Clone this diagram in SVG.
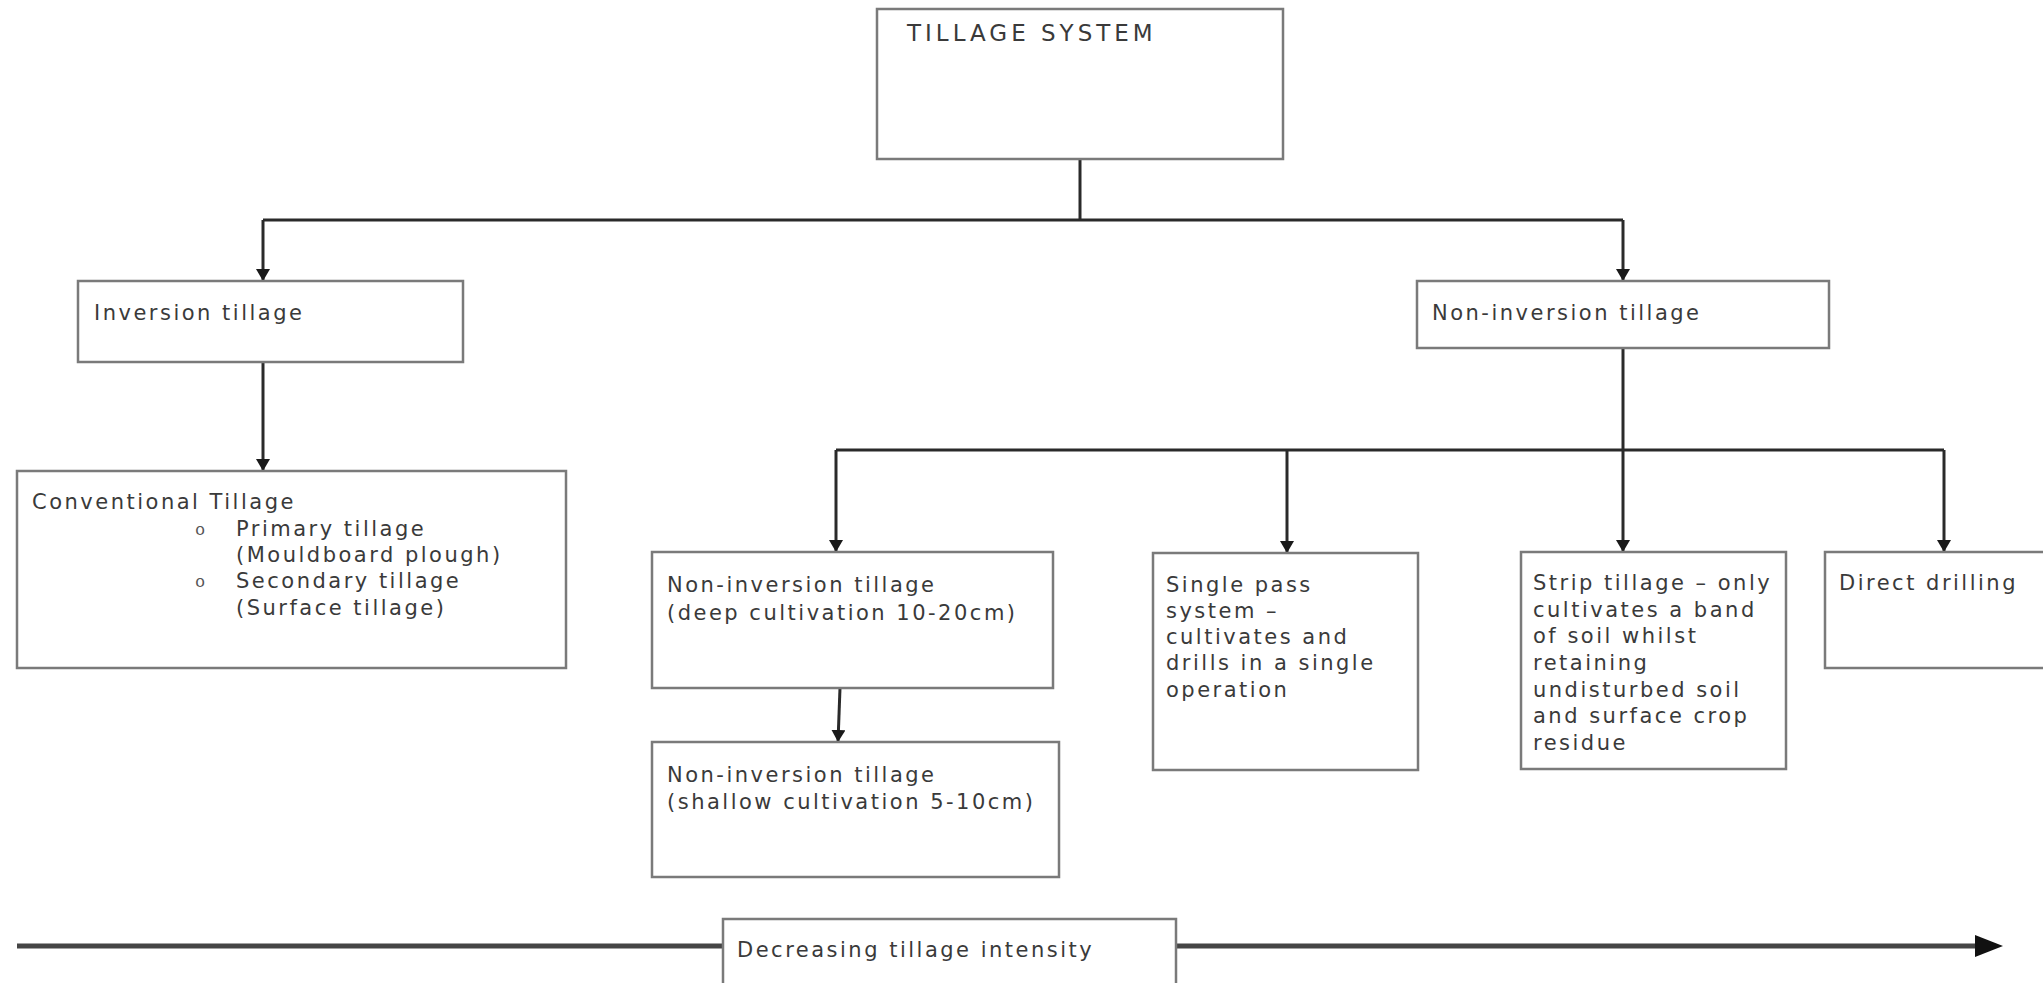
<svg xmlns="http://www.w3.org/2000/svg" width="2043" height="983" viewBox="0 0 2043 983">
<style>
.box{fill:#fff;stroke:#7a7a7a;stroke-width:2.5}
.t{font-family:"DejaVu Sans",sans-serif;font-size:21px;letter-spacing:2.5px;fill:#3a3a3a}
.title{font-family:"DejaVu Sans",sans-serif;font-size:23px;letter-spacing:4px;fill:#3a3a3a}
.bul{font-family:"Liberation Mono",monospace;font-size:17px;fill:#555}
.c{fill:none;stroke:#2a2a2a;stroke-width:3}
</style>
<defs>
<marker id="ah" markerUnits="userSpaceOnUse" viewBox="0 0 12 14" refX="12" refY="7" markerWidth="12" markerHeight="14" orient="auto">
<path d="M0,0 L12,7 L0,14 z" fill="#1a1a1a"/>
</marker>
</defs>
<rect width="2043" height="983" fill="#fff"/>
<g id="connectors">
<path class="c" d="M1080,159 V220"/>
<path class="c" d="M263,220 H1623"/>
<path class="c" d="M263,220 V281" marker-end="url(#ah)"/>
<path class="c" d="M1623,220 V281" marker-end="url(#ah)"/>
<path class="c" d="M263,362 V471" marker-end="url(#ah)"/>
<path class="c" d="M1623,348 V552" marker-end="url(#ah)"/>
<path class="c" d="M836,450 H1944"/>
<path class="c" d="M836,450 V552" marker-end="url(#ah)"/>
<path class="c" d="M1287,450 V553" marker-end="url(#ah)"/>
<path class="c" d="M1944,450 V552" marker-end="url(#ah)"/>
<path class="c" d="M840,688 L838,742" marker-end="url(#ah)"/>
<path d="M17,946 H1980" fill="none" stroke="#454545" stroke-width="5"/>
<polygon points="1975,935 2003,946 1975,957" fill="#111"/>
</g>
<g id="tillage-system">
<rect class="box" x="877" y="9" width="406" height="150"/>
<text class="title" x="907" y="41">TILLAGE SYSTEM</text>
</g>
<g id="inversion">
<rect class="box" x="78" y="281" width="385" height="81"/>
<text class="t" x="94" y="320">Inversion tillage</text>
</g>
<g id="non-inversion">
<rect class="box" x="1417" y="281" width="412" height="67"/>
<text class="t" x="1432" y="320">Non-inversion tillage</text>
</g>
<g id="conventional">
<rect class="box" x="17" y="471" width="549" height="197"/>
<text class="t" x="32" y="509">Conventional Tillage</text>
<text class="bul" x="195" y="535">o</text>
<text class="t" x="236" y="536">Primary tillage</text>
<text class="t" x="236" y="562">(Mouldboard plough)</text>
<text class="bul" x="195" y="587">o</text>
<text class="t" x="236" y="588">Secondary tillage</text>
<text class="t" x="236" y="615">(Surface tillage)</text>
</g>
<g id="deep">
<rect class="box" x="652" y="552" width="401" height="136"/>
<text class="t" x="667" y="592">Non-inversion tillage</text>
<text class="t" x="667" y="620">(deep cultivation 10-20cm)</text>
</g>
<g id="shallow">
<rect class="box" x="652" y="742" width="407" height="135"/>
<text class="t" x="667" y="782">Non-inversion tillage</text>
<text class="t" x="667" y="809">(shallow cultivation 5-10cm)</text>
</g>
<g id="single-pass">
<rect class="box" x="1153" y="553" width="265" height="217"/>
<text class="t" x="1166" y="592">Single pass</text>
<text class="t" x="1166" y="618">system –</text>
<text class="t" x="1166" y="644">cultivates and</text>
<text class="t" x="1166" y="670">drills in a single</text>
<text class="t" x="1166" y="697">operation</text>
</g>
<g id="strip">
<rect class="box" x="1521" y="552" width="265" height="217"/>
<text class="t" x="1533" y="590">Strip tillage – only</text>
<text class="t" x="1533" y="617">cultivates a band</text>
<text class="t" x="1533" y="643">of soil whilst</text>
<text class="t" x="1533" y="670">retaining</text>
<text class="t" x="1533" y="697">undisturbed soil</text>
<text class="t" x="1533" y="723">and surface crop</text>
<text class="t" x="1533" y="750">residue</text>
</g>
<g id="direct">
<rect class="box" x="1825" y="552" width="240" height="116"/>
<text class="t" x="1839" y="590">Direct drilling</text>
</g>
<g id="intensity">
<rect class="box" x="723" y="919" width="453" height="90"/>
<text class="t" x="737" y="957">Decreasing tillage intensity</text>
</g>
</svg>
